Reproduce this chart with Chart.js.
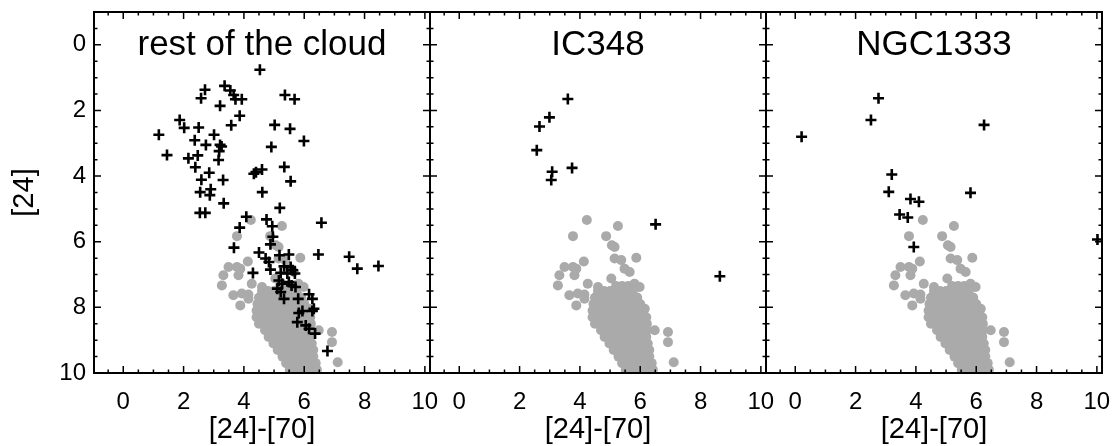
<!DOCTYPE html>
<html>
<head>
<meta charset="utf-8">
<title>[24] vs [24]-[70]</title>
<script src="https://cdn.jsdelivr.net/npm/chart.js@4.4.1/dist/chart.umd.min.js"></script>
<style>
  html, body { margin: 0; padding: 0; background: #fff; }
  #wrap { position: relative; width: 1114px; height: 446px; }
  #wrap canvas { position: absolute; left: 0; top: 0; }
</style>
</head>
<body>
<div id="wrap">
  <canvas id="c0" width="1114" height="446"></canvas>
  <canvas id="c1" width="1114" height="446"></canvas>
  <canvas id="c2" width="1114" height="446"></canvas>
</div>
<script>
// panel names and axis ticks
const panelTitles = ['rest of the cloud', 'IC348', 'NGC1333'];
const xTicks = [0, 2, 4, 6, 8, 10];
const yTicks = [0, 2, 4, 6, 8, 10];
const xLabel = '[24]-[70]';
const yLabel = '[24]';

// grey background population, [ [24]-[70], [24] ] (same in every panel)
const bgStars = [
  [4.23, 5.34], [5.26, 5.52], [3.77, 5.83], [4.87, 5.83], [5.06, 6.11], [5.15, 6.16],
  [5.87, 6.49], [5.15, 6.51], [5.37, 6.56], [5.48, 6.82], [5.65, 6.92], [4.13, 6.60],
  [3.49, 6.77], [3.77, 6.77], [3.88, 6.82], [3.32, 7.02], [3.27, 7.33], [3.82, 7.02],
  [4.26, 7.28], [4.60, 7.38], [5.04, 7.12], [5.81, 7.28], [5.98, 7.38], [3.65, 7.63],
  [3.93, 7.58], [4.15, 7.61], [3.88, 7.94], [4.15, 7.74], [6.15, 8.04], [6.48, 8.70],
  [6.92, 8.75], [6.92, 9.06], [7.11, 9.67],
  [5.20, 7.35], [5.40, 7.35], [5.60, 7.35],
  [4.60, 7.50], [4.80, 7.50], [5.00, 7.50], [5.20, 7.50], [5.40, 7.50], [5.60, 7.50], [5.75, 7.50],
  [4.50, 7.70], [4.70, 7.70], [4.90, 7.70], [5.10, 7.70], [5.30, 7.70], [5.50, 7.70], [5.70, 7.70], [5.90, 7.70],
  [4.45, 7.90], [4.65, 7.90], [4.85, 7.90], [5.05, 7.90], [5.25, 7.90], [5.45, 7.90], [5.65, 7.90], [5.85, 7.90], [6.00, 7.90],
  [4.42, 8.10], [4.62, 8.10], [4.82, 8.10], [5.02, 8.10], [5.22, 8.10], [5.42, 8.10], [5.62, 8.10], [5.82, 8.10], [6.02, 8.10],
  [4.42, 8.30], [4.62, 8.30], [4.82, 8.30], [5.02, 8.30], [5.22, 8.30], [5.42, 8.30], [5.62, 8.30], [5.82, 8.30], [6.02, 8.30], [6.20, 8.30],
  [4.50, 8.50], [4.70, 8.50], [4.90, 8.50], [5.10, 8.50], [5.30, 8.50], [5.50, 8.50], [5.70, 8.50], [5.90, 8.50], [6.10, 8.50], [6.22, 8.50],
  [4.70, 8.70], [4.90, 8.70], [5.10, 8.70], [5.30, 8.70], [5.50, 8.70], [5.70, 8.70], [5.90, 8.70], [6.10, 8.70], [6.22, 8.70],
  [4.82, 8.90], [5.02, 8.90], [5.22, 8.90], [5.42, 8.90], [5.62, 8.90], [5.82, 8.90], [6.02, 8.90], [6.20, 8.90],
  [4.98, 9.10], [5.18, 9.10], [5.38, 9.10], [5.58, 9.10], [5.78, 9.10], [5.98, 9.10], [6.18, 9.10], [6.25, 9.10],
  [5.12, 9.30], [5.32, 9.30], [5.52, 9.30], [5.72, 9.30], [5.92, 9.30], [6.12, 9.30], [6.30, 9.30],
  [5.28, 9.50], [5.48, 9.50], [5.68, 9.50], [5.88, 9.50], [6.08, 9.50], [6.30, 9.50],
  [5.40, 9.70], [5.60, 9.70], [5.80, 9.70], [6.00, 9.70], [6.20, 9.70], [6.38, 9.70],
  [5.52, 9.90], [5.72, 9.90], [5.92, 9.90], [6.12, 9.90], [6.32, 9.90], [6.42, 9.90],
  [5.55, 10.1], [5.75, 10.1], [5.95, 10.1], [6.15, 10.1], [6.35, 10.1], [6.45, 10.1]
];

// black crosses, one list per region
const cloudYSOs = [
  [4.53, 0.76], [3.36, 1.25], [2.71, 1.37], [2.58, 1.63], [3.55, 1.39], [3.66, 1.53],
  [3.72, 1.66], [3.93, 1.66], [5.36, 1.53], [5.68, 1.66], [3.21, 1.86], [3.86, 2.16],
  [1.87, 2.29], [2.02, 2.53], [2.50, 2.52], [3.58, 2.45], [5.02, 2.44], [5.53, 2.56],
  [1.18, 2.74], [3.01, 2.74], [2.37, 2.91], [2.74, 3.05], [3.21, 3.05], [3.26, 3.10],
  [5.99, 2.93], [4.91, 3.11], [3.18, 3.24], [1.45, 3.36], [2.16, 3.46], [2.47, 3.37],
  [3.16, 3.51], [2.39, 3.73], [2.85, 3.90], [3.31, 4.12], [2.59, 4.11], [4.33, 3.93],
  [4.40, 3.88], [4.60, 3.80], [5.34, 3.72], [5.55, 4.16], [2.55, 4.49], [2.90, 4.40],
  [2.87, 4.58], [4.61, 4.49], [3.33, 4.83], [2.54, 5.12], [2.72, 5.12], [5.19, 4.97],
  [4.08, 5.24], [6.57, 5.42], [4.75, 5.32], [4.94, 5.53], [3.86, 5.57], [4.96, 5.85],
  [4.88, 6.08], [3.67, 6.18], [4.50, 6.33], [5.18, 6.41], [5.49, 6.39], [6.47, 6.39],
  [7.49, 6.46], [4.72, 6.51], [4.83, 6.62], [7.76, 6.82], [8.46, 6.74], [4.88, 6.85],
  [4.30, 6.95], [5.33, 6.75], [5.55, 6.77], [5.62, 6.87], [5.22, 6.95], [5.44, 6.97],
  [5.69, 6.97], [5.16, 7.18], [5.27, 7.28], [5.49, 7.23], [5.58, 7.33], [5.71, 7.38],
  [5.11, 7.43], [5.22, 7.53], [6.16, 7.60], [6.27, 7.74], [5.33, 7.74], [5.80, 7.74],
  [6.32, 8.04], [6.27, 8.11], [5.82, 8.17], [5.94, 8.11], [5.77, 8.45], [6.05, 8.55],
  [6.16, 8.65], [6.36, 8.80], [6.77, 9.33]
];
const ic348YSOs = [
  [3.60, 1.65], [2.99, 2.21], [2.66, 2.49], [2.57, 3.21], [3.08, 3.87], [3.05, 4.12],
  [3.74, 3.75], [6.51, 5.47], [8.64, 7.05]
];
const ngc1333YSOs = [
  [0.21, 2.80], [2.76, 1.63], [2.51, 2.29], [6.26, 2.44], [3.20, 3.95], [3.10, 4.48],
  [3.82, 4.70], [4.10, 4.78], [5.81, 4.51], [3.46, 5.17], [3.73, 5.26], [3.93, 6.16],
  [10.02, 5.93]
];
const panelYSOs = [cloudYSOs, ic348YSOs, ngc1333YSOs];

// layout of the three boxes on the page
const panelLeft = [94, 430, 766];
const panelRight = [430, 766, 1102];
const xMin = -0.97, xMax = 10.17;
const yMin = -1, yMax = 10;
const FONT = '"Liberation Sans", Arial, Helvetica, sans-serif';

// frame with inward ticks on all four sides, plus the panel name
const framePlugin = {
  id: 'panelFrame',
  afterDraw(chart, args, opts) {
    const { ctx, chartArea: a, scales: { x, y } } = chart;
    ctx.save();
    ctx.strokeStyle = '#000';
    ctx.lineWidth = 1.5;
    ctx.beginPath();
    for (let v = Math.ceil(x.min * 2) / 2; v <= x.max; v += 0.5) {
      const px = x.getPixelForValue(v);
      const len = v % 2 === 0 ? 7 : 3.5;
      ctx.moveTo(px, a.bottom); ctx.lineTo(px, a.bottom - len);
      ctx.moveTo(px, a.top); ctx.lineTo(px, a.top + len);
    }
    for (let v = Math.ceil(y.min * 2) / 2; v <= y.max; v += 0.5) {
      const py = y.getPixelForValue(v);
      const len = v % 2 === 0 ? 7 : 3.5;
      ctx.moveTo(a.left, py); ctx.lineTo(a.left + len, py);
      ctx.moveTo(a.right, py); ctx.lineTo(a.right - len, py);
    }
    ctx.stroke();
    ctx.lineWidth = 2;
    ctx.strokeRect(a.left, a.top, a.right - a.left, a.bottom - a.top);

    ctx.fillStyle = '#000';
    ctx.font = '35px ' + FONT;
    ctx.textAlign = 'center';
    ctx.textBaseline = 'alphabetic';
    ctx.fillText(opts.title, (a.left + a.right) / 2, a.top + 43);
    ctx.restore();
  }
};

function makePanel(i) {
  const showY = i === 0;
  return new Chart(document.getElementById('c' + i), {
    type: 'scatter',
    data: {
      datasets: [
        {
          label: 'YSO',
          data: panelYSOs[i].map(p => ({ x: p[0], y: p[1] })),
          pointStyle: 'cross',
          pointRadius: 5.5,
          pointBorderWidth: 2.6,
          pointBorderColor: '#000',
          order: 1,
          clip: 0
        },
        {
          label: 'background',
          data: bgStars.map(p => ({ x: p[0], y: p[1] })),
          pointStyle: 'circle',
          pointRadius: 5,
          pointBorderWidth: 0,
          pointBackgroundColor: '#aaaaaa',
          order: 2,
          clip: 0
        }
      ]
    },
    options: {
      responsive: false,
      animation: false,
      events: [],
      layout: { padding: { left: showY ? 0 : panelLeft[i], right: 1114 - panelRight[i], top: 12, bottom: 0 } },
      plugins: {
        legend: { display: false },
        tooltip: { enabled: false },
        panelFrame: { title: panelTitles[i] }
      },
      scales: {
        x: {
          type: 'linear',
          min: xMin,
          max: xMax,
          afterBuildTicks: s => { s.ticks = xTicks.map(v => ({ value: v })); },
          afterFit: s => { s.height = 73; s.paddingLeft = 0; s.paddingRight = 0; },
          grid: { display: false, drawTicks: false },
          border: { display: false },
          ticks: { padding: 15, autoSkip: false, maxRotation: 0, color: '#000', font: { family: FONT, size: 24 } },
          title: { display: true, text: xLabel, color: '#000', padding: { top: 0, bottom: 2 }, font: { family: FONT, size: 29, lineHeight: 1 } }
        },
        y: {
          type: 'linear',
          reverse: true,
          min: yMin,
          max: yMax,
          display: showY,
          afterBuildTicks: s => { s.ticks = yTicks.map(v => ({ value: v })); },
          afterFit: s => { s.width = showY ? 94 : 0; s.paddingTop = 0; s.paddingBottom = 0; },
          grid: { display: false, drawTicks: false },
          border: { display: false },
          ticks: { padding: 8, autoSkip: false, color: '#000', font: { family: FONT, size: 24 } },
          title: { display: true, text: yLabel, color: '#000', padding: { top: 10, bottom: 0 }, font: { family: FONT, size: 29, lineHeight: 1 } }
        }
      }
    },
    plugins: [framePlugin]
  });
}

panelTitles.forEach((t, i) => makePanel(i));
</script>
</body>
</html>
